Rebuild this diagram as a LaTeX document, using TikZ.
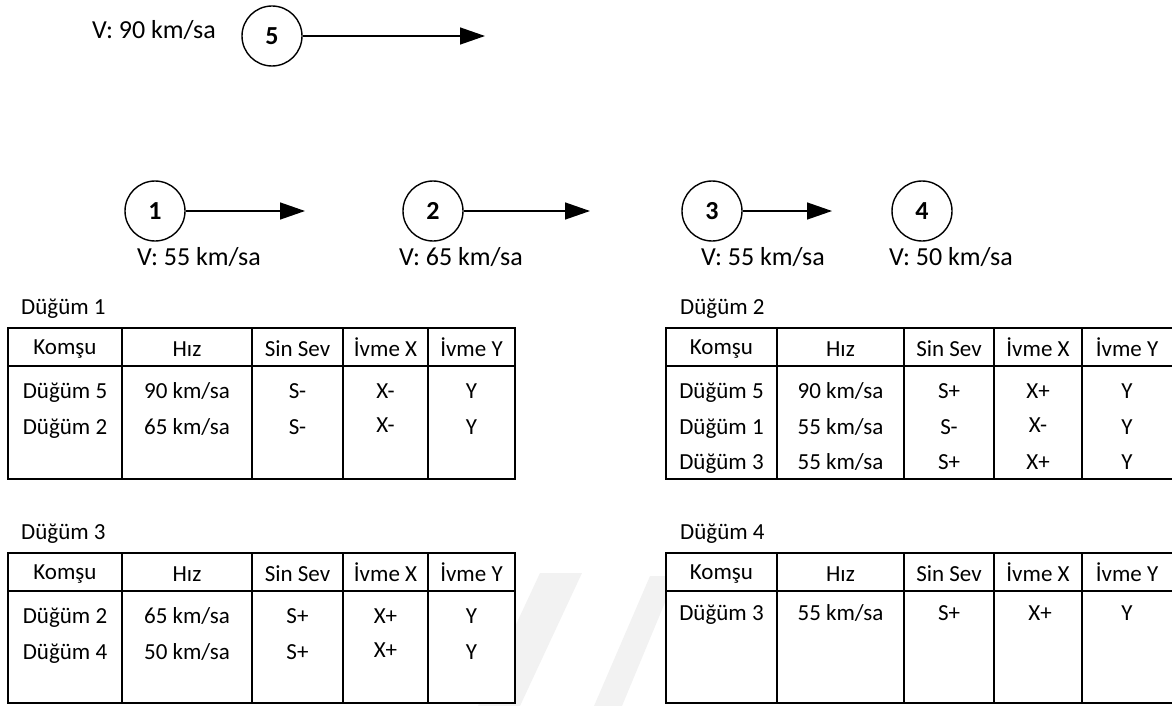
\documentclass[tikz,border=0pt]{standalone}
\usepackage{fontspec}
\setmainfont{Carlito}
\usetikzlibrary{arrows.meta}

\begin{document}
\begin{tikzpicture}[x=1pt,y=-1pt,
  nodecirc/.style={circle, draw, line width=1.4pt, minimum size=60pt, inner sep=0pt,
    font=\fontsize{26}{30}\selectfont\bfseries},
  vlabel/.style={anchor=base, inner sep=0pt, font=\fontsize{26}{30}\selectfont},
  move/.style={line width=1.4pt, -{Triangle[length=25pt,width=17pt]}},
  tcell/.style={anchor=base, inner sep=0pt, font=\fontsize{23}{27}\selectfont},
  ttitle/.style={anchor=base west, inner sep=0pt, font=\fontsize{23}{27}\selectfont},
  tline/.style={line width=1.6pt},
  tbox/.style={line width=1.6pt, fill=white},
  faint/.style={fill=black!5, draw=none},
]
\useasboundingbox (0,0) rectangle (1172,706);

% faint diagonal background marks
\path[faint] (540,573) -- (582,573) -- (520,706) -- (478,706) -- cycle;
\path[faint] (650,576) -- (676,576) -- (622,706) -- (594,706) -- cycle;

% ---- vehicles on the road ----
\node[vlabel] (v5) at (154,39) {V: 90 km/sa};
\node[nodecirc] (n5) at (272,36) {5};
\coordinate (t5) at (485,36);
\draw[move] (n5) -- (t5);

\node[nodecirc] (n1) at (155,211) {1};
\coordinate (t1) at (305,211);
\draw[move] (n1) -- (t1);
\node[vlabel] (v1) at (199,265) {V: 55 km/sa};

\node[nodecirc] (n2) at (433,211) {2};
\coordinate (t2) at (590,211);
\draw[move] (n2) -- (t2);
\node[vlabel] (v2) at (461,265) {V: 65 km/sa};

\node[nodecirc] (n3) at (712,211) {3};
\coordinate (t3) at (832,211);
\draw[move] (n3) -- (t3);
\node[vlabel] (v3) at (763,265) {V: 55 km/sa};

\node[nodecirc] (n4) at (922,211) {4};
\node[vlabel] (v4) at (951,265) {V: 50 km/sa};

% ---- neighbour table of node 1 ----
\node[ttitle] (a-title) at (21,314) {Düğüm 1};
\draw[tbox] (8,328) rectangle (515,479);
\draw[tline] (8,366) -- (515,366);
\foreach \x in {122,252,343,428} \draw[tline] (\x,328) -- (\x,479);
\node[tcell] (a-h1) at (65,354) {Komşu};
\node[tcell] (a-h2) at (187,356) {Hız};
\node[tcell] (a-h3) at (297.5,356) {Sin Sev};
\node[tcell] (a-h4) at (385.5,356) {İvme X};
\node[tcell] (a-h5) at (471.5,356) {İvme Y};
\node[tcell] (a-11) at (65,398) {Düğüm 5};
\node[tcell] (a-12) at (187,398) {90 km/sa};
\node[tcell] (a-13) at (297.5,398) {S-};
\node[tcell] (a-14) at (385.5,398) {X-};
\node[tcell] (a-15) at (471.5,398) {Y};
\node[tcell] (a-21) at (65,434) {Düğüm 2};
\node[tcell] (a-22) at (187,434) {65 km/sa};
\node[tcell] (a-23) at (297.5,434) {S-};
\node[tcell] (a-24) at (385.5,432) {X-};
\node[tcell] (a-25) at (471.5,434) {Y};

% ---- neighbour table of node 2 ----
\node[ttitle] (b-title) at (680,314) {Düğüm 2};
\draw[tbox] (666,328) rectangle (1175,479);
\draw[tline] (666,366) -- (1175,366);
\foreach \x in {777,904,994,1082} \draw[tline] (\x,328) -- (\x,479);
\node[tcell] (b-h1) at (721.5,354) {Komşu};
\node[tcell] (b-h2) at (840.5,356) {Hız};
\node[tcell] (b-h3) at (949,356) {Sin Sev};
\node[tcell] (b-h4) at (1038,356) {İvme X};
\node[tcell] (b-h5) at (1127,356) {İvme Y};
\node[tcell] (b-11) at (721.5,398) {Düğüm 5};
\node[tcell] (b-12) at (840.5,398) {90 km/sa};
\node[tcell] (b-13) at (949,398) {S+};
\node[tcell] (b-14) at (1038,398) {X+};
\node[tcell] (b-15) at (1127,398) {Y};
\node[tcell] (b-21) at (721.5,434) {Düğüm 1};
\node[tcell] (b-22) at (840.5,434) {55 km/sa};
\node[tcell] (b-23) at (949,434) {S-};
\node[tcell] (b-24) at (1038,432) {X-};
\node[tcell] (b-25) at (1127,434) {Y};
\node[tcell] (b-31) at (721.5,469) {Düğüm 3};
\node[tcell] (b-32) at (840.5,469) {55 km/sa};
\node[tcell] (b-33) at (949,469) {S+};
\node[tcell] (b-34) at (1038,469) {X+};
\node[tcell] (b-35) at (1127,469) {Y};

% ---- neighbour table of node 3 ----
\node[ttitle] (c-title) at (21,539) {Düğüm 3};
\draw[tbox] (8,553) rectangle (515,703);
\draw[tline] (8,591) -- (515,591);
\foreach \x in {122,252,343,428} \draw[tline] (\x,553) -- (\x,703);
\node[tcell] (c-h1) at (65,579) {Komşu};
\node[tcell] (c-h2) at (187,581) {Hız};
\node[tcell] (c-h3) at (297.5,581) {Sin Sev};
\node[tcell] (c-h4) at (385.5,581) {İvme X};
\node[tcell] (c-h5) at (471.5,581) {İvme Y};
\node[tcell] (c-11) at (65,623) {Düğüm 2};
\node[tcell] (c-12) at (187,623) {65 km/sa};
\node[tcell] (c-13) at (297.5,623) {S+};
\node[tcell] (c-14) at (385.5,623) {X+};
\node[tcell] (c-15) at (471.5,623) {Y};
\node[tcell] (c-21) at (65,659) {Düğüm 4};
\node[tcell] (c-22) at (187,659) {50 km/sa};
\node[tcell] (c-23) at (297.5,659) {S+};
\node[tcell] (c-24) at (385.5,657) {X+};
\node[tcell] (c-25) at (471.5,659) {Y};

% ---- neighbour table of node 4 ----
\node[ttitle] (d-title) at (680,539) {Düğüm 4};
\draw[tbox] (666,553) rectangle (1175,703);
\draw[tline] (666,591) -- (1175,591);
\foreach \x in {777,904,994,1082} \draw[tline] (\x,553) -- (\x,703);
\node[tcell] (d-h1) at (721.5,579) {Komşu};
\node[tcell] (d-h2) at (840.5,581) {Hız};
\node[tcell] (d-h3) at (949,581) {Sin Sev};
\node[tcell] (d-h4) at (1038,581) {İvme X};
\node[tcell] (d-h5) at (1127,581) {İvme Y};
\node[tcell] (d-11) at (721.5,620) {Düğüm 3};
\node[tcell] (d-12) at (840.5,620) {55 km/sa};
\node[tcell] (d-13) at (949,620) {S+};
\node[tcell] (d-14) at (1040,620) {X+};
\node[tcell] (d-15) at (1127,620) {Y};
\end{tikzpicture}
\end{document}
